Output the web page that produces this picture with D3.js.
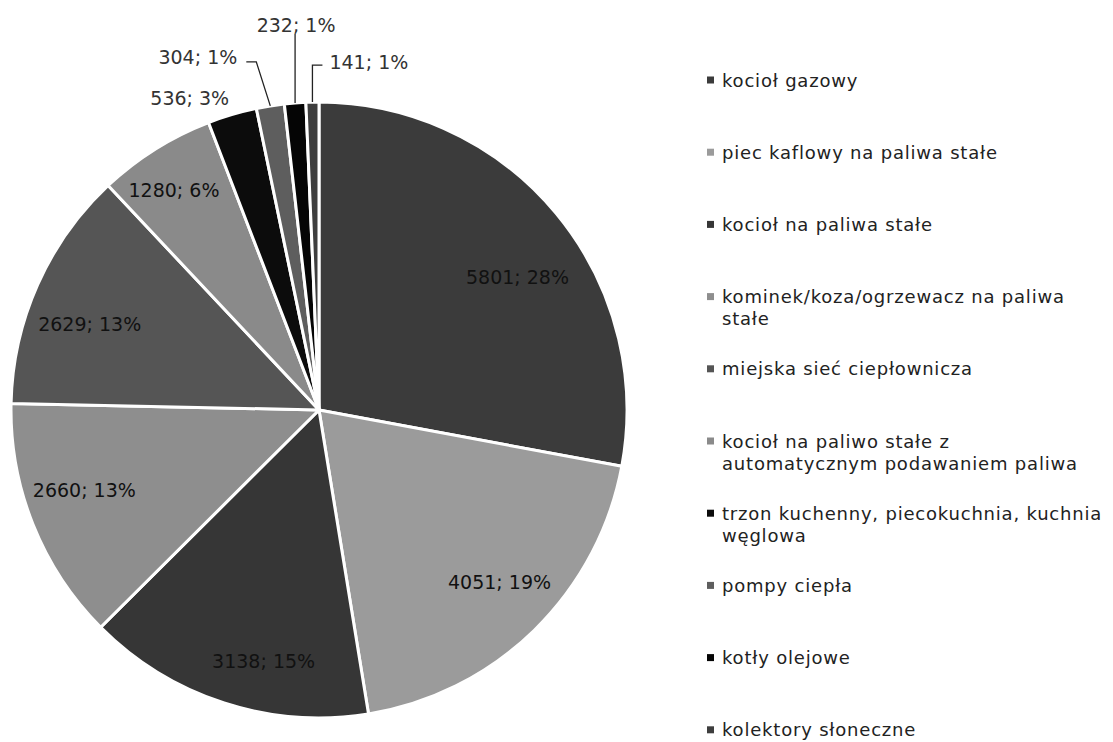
<!DOCTYPE html>
<html>
<head>
<meta charset="utf-8">
<script src="https://cdn.jsdelivr.net/npm/d3@7"></script>
<style>
  html, body { margin: 0; padding: 0; background: #fff; }
  svg { display: block; }
</style>
</head>
<body>
<svg id="chart" width="1113" height="742"></svg>
<script>
// ---- data ----
const categories = [
  "kocioł gazowy",
  "piec kaflowy na paliwa stałe",
  "kocioł na paliwa stałe",
  "kominek/koza/ogrzewacz na paliwa stałe",
  "miejska sieć ciepłownicza",
  "kocioł na paliwo stałe z automatycznym podawaniem paliwa",
  "trzon kuchenny, piecokuchnia, kuchnia węglowa",
  "pompy ciepła",
  "kotły olejowe",
  "kolektory słoneczne"
];
const values = [5801, 4051, 3138, 2660, 2629, 1280, 536, 304, 232, 141];
const percentLabels = ["28%", "19%", "15%", "13%", "13%", "6%", "3%", "1%", "1%", "1%"];
// legend text split into lines as in the original
const legendLines = [
  ["kocioł gazowy"],
  ["piec kaflowy na paliwa stałe"],
  ["kocioł na paliwa stałe"],
  ["kominek/koza/ogrzewacz na paliwa", "stałe"],
  ["miejska sieć ciepłownicza"],
  ["kocioł na paliwo stałe z", "automatycznym podawaniem paliwa"],
  ["trzon kuchenny, piecokuchnia, kuchnia", "węglowa"],
  ["pompy ciepła"],
  ["kotły olejowe"],
  ["kolektory słoneczne"]
];

// ---- style / layout ----
const colors = ["#3b3b3b", "#9b9b9b", "#363636", "#8e8e8e", "#555555",
                "#8a8a8a", "#0c0c0c", "#5e5e5e", "#050505", "#3e3e3e"];
const cx = 319, cy = 410, R = 308;
// inner label placement: [angle shift in degrees, radius fraction]
const innerLabelTweak = [[6, 0.775], [-2, 0.81], [-5.5, 0.835], [3, 0.805], [-3.5, 0.795], [-1.3, 0.855]];
// outer label placement relative to the slice's outer arc point
const outerLabelLayout = {
  6: { dx: -3, dy: -17, anchor: "end", leader: null },
  7: { dx: -33, dy: -49, anchor: "end", leader: [[0, 0], [-14, -44], [-24, -44]] },
  8: { dx: 1, dy: -78, anchor: "middle", leader: [[0, 0], [0, -69]] },
  9: { dx: 17, dy: -40, anchor: "start", leader: [[0, 0], [0, -37], [10, -37]] }
};

const svg = d3.select("#chart");
const g = svg.append("g").attr("transform", `translate(${cx},${cy})`);

const pie = d3.pie().sort(null).value(d => d)(values);
const arc = d3.arc().innerRadius(0).outerRadius(R);

g.selectAll("path.slice")
  .data(pie)
  .join("path")
  .attr("class", "slice")
  .attr("d", arc)
  .attr("fill", (d, i) => colors[i])
  .attr("stroke", "#fff")
  .attr("stroke-width", 3)
  .attr("stroke-linejoin", "round");

const fontFamily = "'DejaVu Sans', sans-serif";

pie.forEach((d, i) => {
  const mid = (d.startAngle + d.endAngle) / 2;
  const label = values[i] + "; " + percentLabels[i];
  if (i < innerLabelTweak.length) {
    const [shift, frac] = innerLabelTweak[i];
    const a = mid + shift * Math.PI / 180;
    const x = Math.sin(a) * R * frac, y = -Math.cos(a) * R * frac;
    g.append("text")
      .attr("x", x).attr("y", y)
      .attr("text-anchor", "middle")
      .attr("dominant-baseline", "central")
      .attr("font-family", fontFamily)
      .attr("font-size", 19)
      .attr("fill", "#111")
      .text(label);
  } else {
    const lay = outerLabelLayout[i];
    const px = Math.sin(mid) * R, py = -Math.cos(mid) * R;
    if (lay.leader) {
      g.append("path")
        .attr("d", d3.line()(lay.leader.map(p => [px + p[0], py + p[1]])))
        .attr("fill", "none")
        .attr("stroke", "#222")
        .attr("stroke-width", 1.3);
    }
    g.append("text")
      .attr("x", px + lay.dx).attr("y", py + lay.dy)
      .attr("text-anchor", lay.anchor)
      .attr("dominant-baseline", "central")
      .attr("font-family", fontFamily)
      .attr("font-size", 19)
      .attr("fill", "#333")
      .text(label);
  }
});

// ---- legend ----
const legendX = 707, legendY0 = 80, legendStep = 72.2, lineH = 22;
const legend = svg.append("g");
legendLines.forEach((lines, i) => {
  const y = legendY0 + i * legendStep;
  legend.append("rect")
    .attr("x", legendX).attr("y", y - 3.5)
    .attr("width", 7).attr("height", 7)
    .attr("fill", colors[i]);
  const t = legend.append("text")
    .attr("font-family", fontFamily)
    .attr("font-size", 18)
    .attr("letter-spacing", "0.8px")
    .attr("fill", "#222");
  lines.forEach((ln, j) => {
    t.append("tspan")
      .attr("x", legendX + 15)
      .attr("y", y + j * lineH)
      .attr("dominant-baseline", "central")
      .text(ln);
  });
});
</script>
</body>
</html>
